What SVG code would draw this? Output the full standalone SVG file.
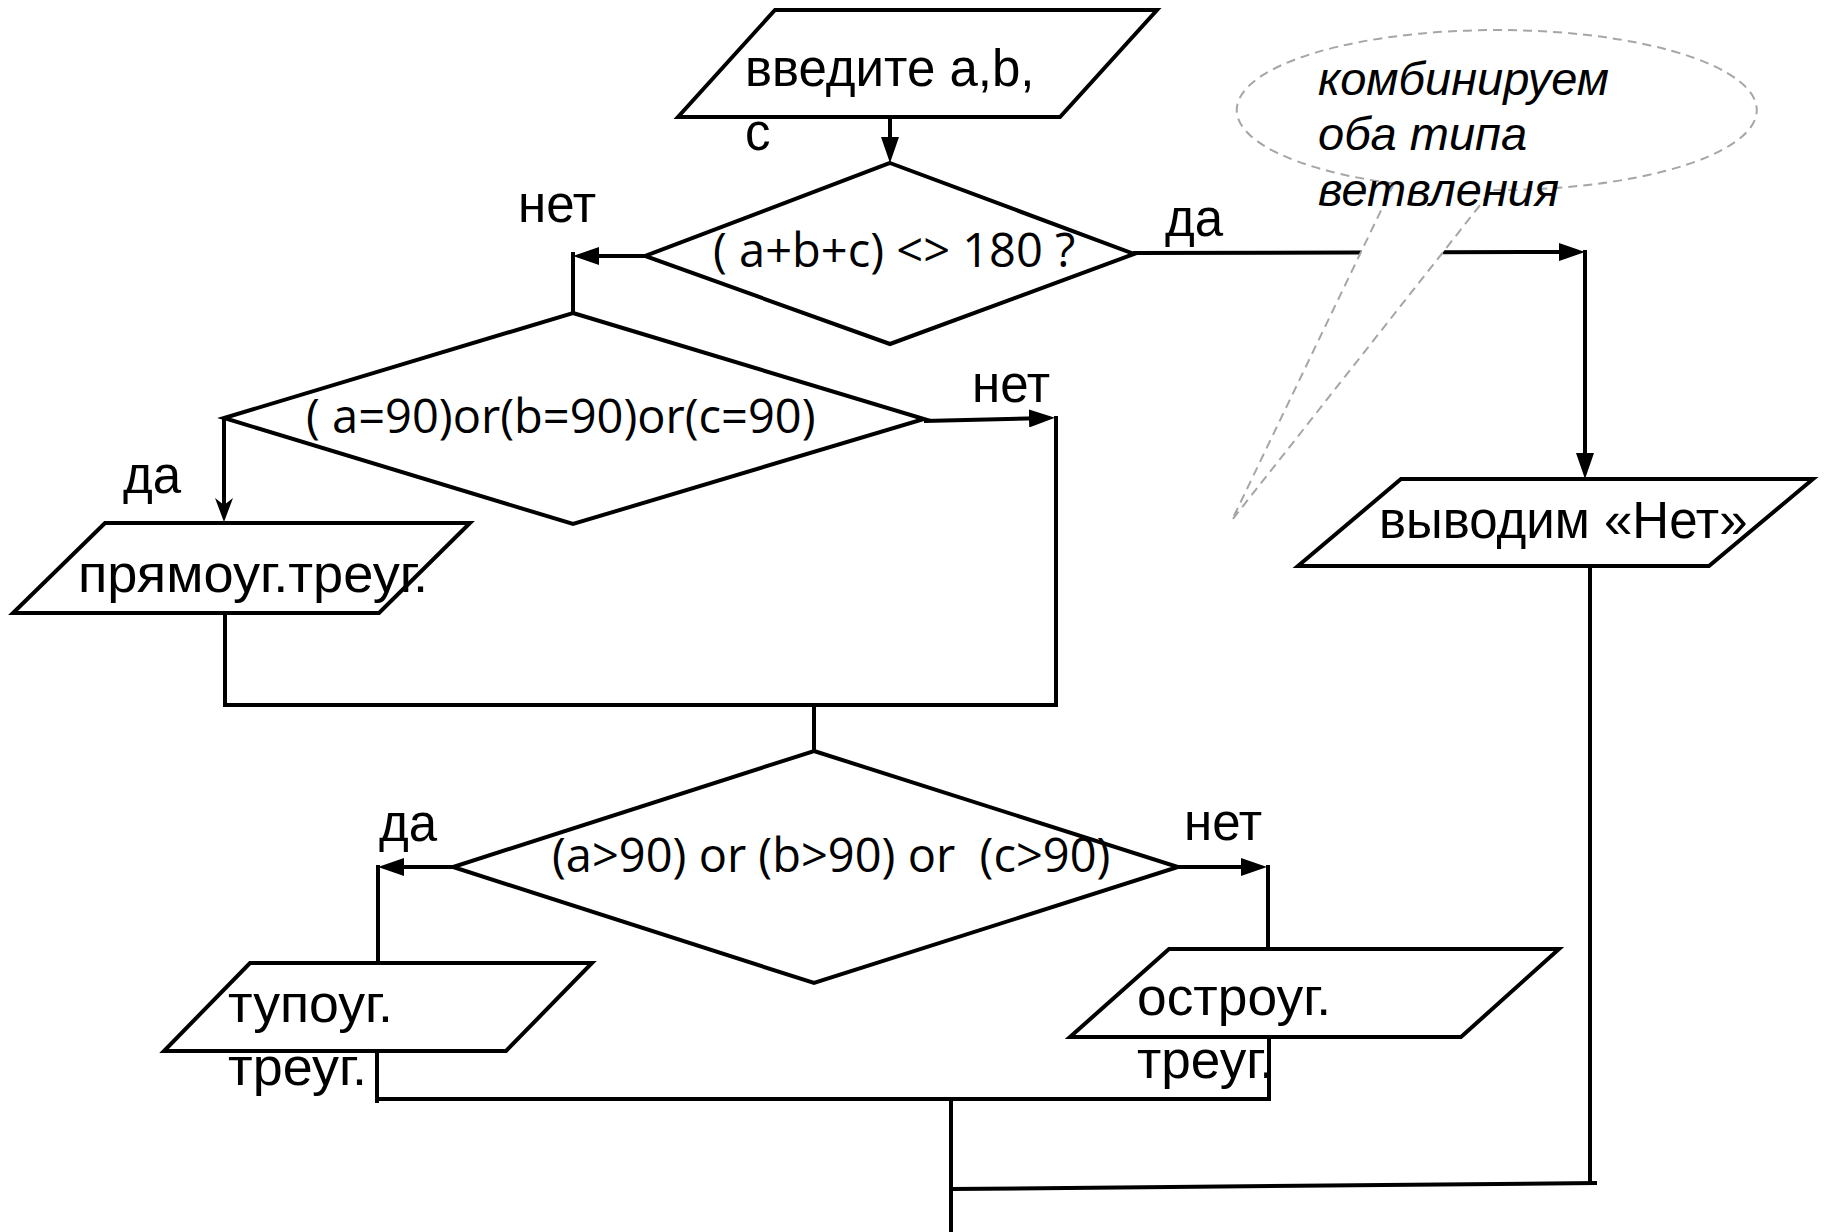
<svg xmlns="http://www.w3.org/2000/svg" width="1824" height="1232" viewBox="0 0 1824 1232">
<style>
.shape { fill: #ffffff; stroke: #000000; stroke-width: 4; stroke-linejoin: miter; }
.conn { fill: none; stroke: #000000; stroke-width: 4; }
.t { font-family: "Liberation Sans", Arial, sans-serif; font-size: 51px; fill: #000000; }
.d { font-family: "Open Sans", "Liberation Sans", sans-serif; font-size: 47px; fill: #000000; }
.c { font-family: "Liberation Sans", Arial, sans-serif; font-size: 47px; font-style: italic; fill: #000000; }
.callout { fill: #ffffff; stroke: #a6a6a6; stroke-width: 2; stroke-dasharray: 9 6; }
</style>
<defs>
<marker id="arr" viewBox="0 0 26 18" refX="20" refY="9" markerWidth="26" markerHeight="18" markerUnits="userSpaceOnUse" orient="auto">
<path d="M0,0 L26,9 L0,18 z" fill="#000000"/>
</marker>
<marker id="stealth" viewBox="0 0 24 18" refX="18" refY="9" markerWidth="24" markerHeight="18" markerUnits="userSpaceOnUse" orient="auto">
<path d="M0,0 L24,9 L0,18 L7,9 z" fill="#000000"/>
</marker>
</defs>
<rect x="0" y="0" width="1824" height="1232" fill="#ffffff"/>

<g id="connectors">
<path class="conn" d="M890,117 V157" marker-end="url(#arr)"/>
<path class="conn" d="M645,256 H579" marker-end="url(#arr)"/>
<path class="conn" d="M573,252 V313"/>
<path class="conn" d="M1133,253 L1579,252" marker-end="url(#arr)"/>
<path class="conn" d="M1585,250 V473" marker-end="url(#arr)"/>
<path class="conn" d="M224,418 V516" stroke-width="3" marker-end="url(#stealth)"/>
<path class="conn" d="M924,421 L1049,418" marker-end="url(#arr)"/>
<path class="conn" d="M1056,416 V707"/>
<path class="conn" d="M225,613 V705 H1056"/>
<path class="conn" d="M814,705 V751"/>
<path class="conn" d="M453,867 H384" marker-end="url(#arr)"/>
<path class="conn" d="M378,865 V963"/>
<path class="conn" d="M1178,867 H1261" marker-end="url(#arr)"/>
<path class="conn" d="M1268,865 V949"/>
<path class="conn" d="M377,1051 V1103"/>
<path class="conn" d="M377,1099 H1269 V1037"/>
<path class="conn" d="M951,1099 V1232"/>
<path class="conn" d="M951,1189 L1597,1183"/>
<path class="conn" d="M1590,566 V1185"/>
</g>

<g id="callout">
<path class="callout" d="M1394,183.5 L1232,520 L1492,190 A260,80 0 1 0 1394,183.5 Z"/>
<text class="c" x="1318" y="95">комбинируем</text>
<text class="c" x="1318" y="150">оба типа</text>
<text class="c" x="1318" y="206">ветвления</text>
</g>

<g id="input">
<polygon class="shape" points="775,10 1157,10 1060,117 678,117"/>
<text class="t" x="745" y="86">введите a,b,</text>
<text class="t" x="745" y="150">c</text>
</g>

<g id="decision1">
<polygon class="shape" points="890,163 1134,254 890,344 645,256"/>
<text class="d" x="713" y="267">( a+b+c) &lt;&gt; 180 ?</text>
<text class="t" x="518" y="222">нет</text>
<text class="t" x="1165" y="236">да</text>
</g>

<g id="decision2">
<polygon class="shape" points="573,313 924,419 573,524 224,418"/>
<text class="d" x="306" y="433">( a=90)or(b=90)or(c=90)</text>
<text class="t" x="123" y="493">да</text>
<text class="t" x="972" y="402">нет</text>
</g>

<g id="right-triangle">
<polygon class="shape" points="105,523 470,523 379,613 13,613"/>
<text class="t" x="78" y="592" textLength="350" lengthAdjust="spacingAndGlyphs">прямоуг.треуг.</text>
</g>

<g id="decision3">
<polygon class="shape" points="814,751 1178,867 814,983 453,867"/>
<text class="d" x="552" y="872" xml:space="preserve">(a&gt;90) or (b&gt;90) or  (c&gt;90)</text>
<text class="t" x="379" y="841">да</text>
<text class="t" x="1184" y="840">нет</text>
</g>

<g id="obtuse-triangle">
<polygon class="shape" points="250,963 592,963 506,1051 164,1051"/>
<text class="t" x="228" y="1022" textLength="165" lengthAdjust="spacingAndGlyphs">тупоуг.</text>
<text class="t" x="228" y="1085" textLength="139" lengthAdjust="spacingAndGlyphs">треуг.</text>
</g>

<g id="acute-triangle">
<polygon class="shape" points="1169,949 1559,949 1461,1037 1070,1037"/>
<text class="t" x="1137" y="1015" textLength="194" lengthAdjust="spacingAndGlyphs">остроуг.</text>
<text class="t" x="1137" y="1078" textLength="137" lengthAdjust="spacingAndGlyphs">треуг.</text>
</g>

<g id="output-no">
<polygon class="shape" points="1401,479 1813,479 1709,566 1298,566"/>
<text class="t" x="1379" y="538">выводим «Нет»</text>
</g>
</svg>
